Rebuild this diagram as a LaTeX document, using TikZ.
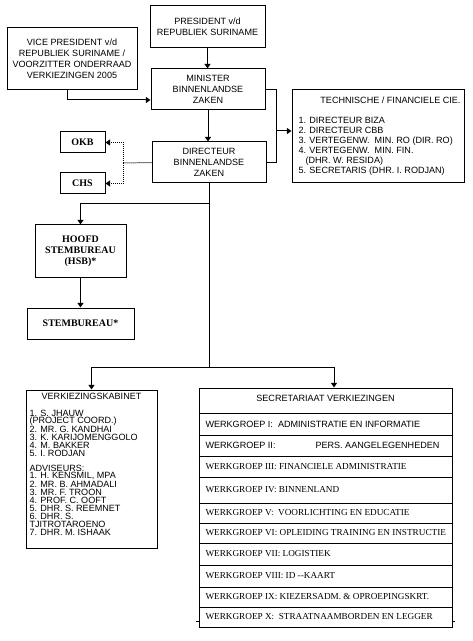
\documentclass[tikz,border=0pt]{standalone}
\usepackage{fontspec}
\setmainfont{Liberation Sans}
\newfontfamily\tms{Liberation Serif}
\usetikzlibrary{positioning,arrows.meta,calc}
\newlength\pxl
\setlength\pxl{0.75pt}
\tikzset{
  orgbox/.style={draw,align=center,inner sep=0pt},
  boldbox/.style={orgbox,font=\tms\bfseries\fontsize{7.5pt}{8.2pt}\selectfont},
  wgserif/.style={anchor=west,inner sep=0pt,font=\tms\fontsize{6.9pt}{8pt}\selectfont},
  wgsans/.style={anchor=west,inner sep=0pt},
  vkline/.style={anchor=west,inner sep=0pt},
  arr/.style={-{Triangle[length=3.5pt,width=4.5pt]}},
  dots/.style={dash pattern=on 0.75pt off 0.75pt},
}

\begin{document}
\begin{tikzpicture}[x=0.75pt,y=-0.75pt,line width=0.75pt,font=\fontsize{6.8pt}{8.2pt}\selectfont]
\useasboundingbox (0,0) rectangle (472,641);
% top of the chart
\node[orgbox,minimum width=115\pxl,minimum height=42\pxl] (pres) at (207.5,27) {PRESIDENT v/d\\REPUBLIEK SURINAME};
\node[orgbox,minimum width=130\pxl,minimum height=62\pxl] (vp) at (72,59) {VICE PRESIDENT v/d\\REPUBLIEK SURINAME /\\VOORZITTER ONDERRAAD\\VERKIEZINGEN 2005};
\node[orgbox,minimum width=114\pxl,minimum height=41\pxl] (min) at (208,89.5) {MINISTER\\BINNENLANDSE\\ZAKEN};
\node[orgbox,minimum width=114\pxl,minimum height=41\pxl] (dir) at (209,162.5) {DIRECTEUR\\BINNENLANDSE\\ZAKEN};
% technische / financiele commissie
\node[draw,minimum width=172\pxl,minimum height=93\pxl] (tech) at (378,136.5) {};
\node[anchor=east,inner sep=0pt] (techtitle) at (461,100) {TECHNISCHE / FINANCIELE CIE.};
\node[anchor=north west,inner sep=0pt,align=left,font=\fontsize{6.8pt}{7.5pt}\selectfont] (techlist) at (298,117)
  {1. DIRECTEUR BIZA\\2. DIRECTEUR CBB\\3. VERTEGENW.~~MIN. RO (DIR. RO)\\4. VERTEGENW.~~MIN. FIN.\\\hspace*{7\pxl}(DHR. W. RESIDA)\\5. SECRETARIS (DHR. I. RODJAN)};
% left side
\node[boldbox,minimum width=45\pxl,minimum height=21\pxl] (okb) at (82.5,142.5) {OKB};
\node[boldbox,minimum width=45\pxl,minimum height=21\pxl] (chs) at (82.5,183.5) {CHS};
\node[boldbox,minimum width=91\pxl,minimum height=52\pxl] (hsb) at (80.5,251) {HOOFD\\STEMBUREAU\\(HSB)*};
\node[boldbox,minimum width=107\pxl,minimum height=31\pxl] (stem) at (80.5,323.5) {STEMBUREAU*};
% verkiezingskabinet
\node[draw,minimum width=131\pxl,minimum height=158\pxl] (vk) at (91.5,469) {};
\node[inner sep=0pt] (vktitle) at (91.5,396) {VERKIEZINGSKABINET};
\foreach \txt [count=\i from 0] in {{1. S. JHAUW},{(PROJECT COORD.)},{2. MR. G. KANDHAI},{3. K. KARIJOMENGGOLO},{4. M. BAKKER},{5. I. RODJAN}}
  \node[vkline] (vka\i) at (29,413+8*\i) {\txt};
\foreach \txt [count=\i from 0] in {{ADVISEURS:},{1. H. KENSMIL, MPA},{2. MR. B. AHMADALI},{3. MR. F. TROON},{4. PROF. C. OOFT},{5. DHR. S. REEMNET},{6. DHR. S.},{TJITROTAROENO},{7. DHR. M. ISHAAK}}
  \node[vkline] (vkb\i) at (29,468+8.1*\i) {\txt};
% secretariaat verkiezingen
\node[draw,minimum width=253\pxl,minimum height=239\pxl] (sv) at (325.5,507.5) {};
\node[inner sep=0pt] (svtitle) at (325.5,398) {SECRETARIAAT VERKIEZINGEN};
\foreach \y in {413,435,456,477,503,523,543,565,587,607}
  \draw (sv.west |- 0,\y) -- (sv.east |- 0,\y);
\node[wgsans] (wg1) at (205,424) {WERKGROEP I:~~ADMINISTRATIE EN INFORMATIE};
\node[wgsans] (wg2) at (205,445.5) {WERKGROEP II:};
\node[wgsans] (wg2b) at (315,445.5) {PERS. AANGELEGENHEDEN};
\node[wgserif] (wg3) at (205,466.5) {WERKGROEP III: FINANCIELE ADMINISTRATIE};
\node[wgserif] (wg4) at (205,490) {WERKGROEP IV: BINNENLAND};
\node[wgserif] (wg5) at (205,513) {WERKGROEP V:~~VOORLICHTING EN EDUCATIE};
\node[wgserif] (wg6) at (205,533) {WERKGROEP VI: OPLEIDING TRAINING EN INSTRUCTIE};
\node[wgserif] (wg7) at (205,554) {WERKGROEP VII: LOGISTIEK};
\node[wgserif] (wg8) at (205,576) {WERKGROEP VIII: ID --KAART};
\node[wgserif] (wg9) at (205,597) {WERKGROEP IX: KIEZERSADM. \& OPROEPINGSKRT.};
\node[wgserif] (wg10) at (205,617) {WERKGROEP X:~~STRAATNAAMBORDEN EN LEGGER};
\draw (196,621) -- (sv.west |- 0,621);
\draw (sv.east |- 0,621) -- (455,621);
% connectors
\coordinate (tbus) at (276,131);
\coordinate (dbus) at (123,163);
\coordinate (hbus) at (dir.south |- 0,204);
\coordinate (vbus) at (dir.south |- 0,367);
\draw[arr] (pres.south) -- (pres.south |- min.north);
\draw[arr] ($(vp.south)+(-5,0)$) |- ($(min.west)+(0,10.5)$);
\draw[arr] (min.south) -- (min.south |- dir.north);
\draw (min.east) -| (tbus |- dir.east) -- (dir.east);
\draw[arr] (tbus) -- (tbus -| tech.west);
\draw[dots] (dir.west) -- (dbus);
\draw[dots,arr] (dbus) |- (okb.east);
\draw[dots,arr] (dbus) |- (chs.east);
\draw (dir.south) -- (vbus);
\draw[arr] (hbus) -| (hsb.north);
\draw[arr] (hsb.south) -- (stem.north);
\draw[arr] (vbus) -| (vk.north);
\draw[arr] (vbus) -| ($(sv.north)+(8.5,0)$);
\end{tikzpicture}
\end{document}
